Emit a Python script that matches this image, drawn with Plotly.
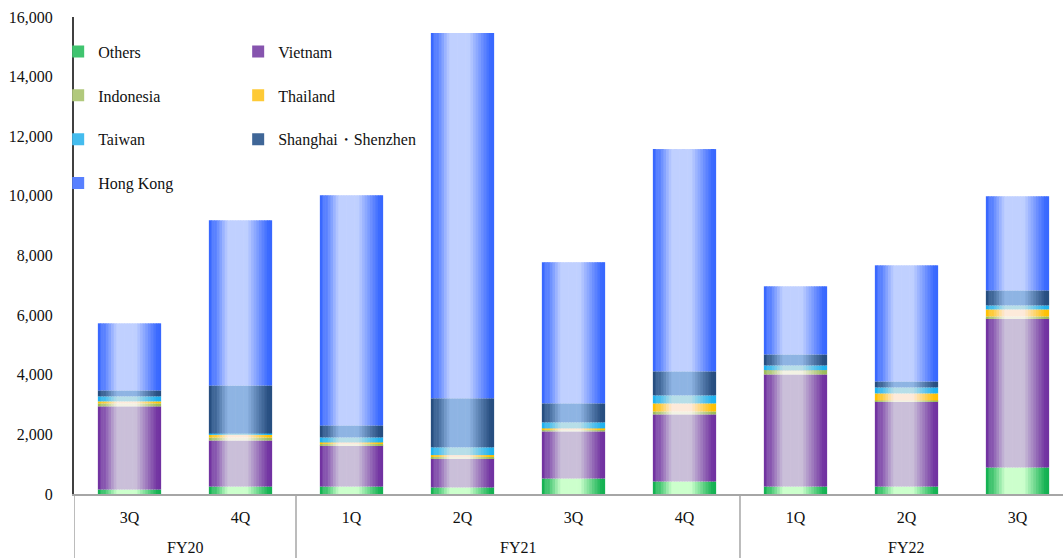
import numpy as np
import plotly.graph_objects as go

# Quarterly breakdown by market, stacked bottom to top
fiscal_years = ["FY20", "FY20", "FY21", "FY21", "FY21", "FY21", "FY22", "FY22", "FY22"]
quarters = ["3Q", "4Q", "1Q", "2Q", "3Q", "4Q", "1Q", "2Q", "3Q"]

others = [150, 250, 250, 220, 520, 420, 250, 250, 890]
vietnam = [2790, 1545, 1380, 975, 1580, 2250, 3760, 2855, 5000]
indonesia = [100, 100, 50, 57, 77, 100, 118, 34, 67]
thailand = [67, 100, 50, 54, 25, 269, 17, 235, 235]
taiwan = [168, 34, 168, 259, 201, 269, 168, 201, 134]
shanghai_shenzhen = [200, 1612, 403, 1645, 638, 806, 369, 201, 504]
hong_kong = [2250, 5540, 7720, 12255, 4735, 7455, 2285, 3895, 3157]

y_ticks = [0, 2000, 4000, 6000, 8000, 10000, 12000, 14000, 16000]

# name, values, edge colour, centre highlight colour, legend column
series = [
    ("Others", others, (0x12, 0xB0, 0x50), (0xCC, 0xFF, 0xCC), "legend"),
    ("Vietnam", vietnam, (0x70, 0x30, 0xA0), (0xCA, 0xBF, 0xD9), "legend2"),
    ("Indonesia", indonesia, (0x9B, 0xBB, 0x59), (0xF2, 0xF2, 0xE4), "legend"),
    ("Thailand", thailand, (0xFF, 0xC0, 0x00), (0xFD, 0xEA, 0xDA), "legend2"),
    ("Taiwan", taiwan, (0x1D, 0xB1, 0xF0), (0xB7, 0xDE, 0xE8), "legend"),
    ("Shanghai\u30fbShenzhen", shanghai_shenzhen, (0x25, 0x4C, 0x7E), (0x8E, 0xB4, 0xE3), "legend2"),
    ("Hong Kong", hong_kong, (0x36, 0x66, 0xFF), (0xC0, 0xD0, 0xFF), "legend"),
]

FONT = "Liberation Serif, Times New Roman, serif"
FS = 16
TEXT = "#111111"
BAR_W = 0.57
N_STRIPS = 24
STEP = BAR_W / N_STRIPS

# horizontal shading profile across a bar: 0 = edge colour, 1 = highlight
prof_t = [0.0, 0.05, 0.30, 0.60, 0.93, 1.0]
prof_w = [0.0, 0.05, 1.00, 1.00, 0.05, 0.0]


def blend(c0, c1, w):
    r, g, b = (round(a + (b_ - a) * w) for a, b_ in zip(c0, c1))
    return f"rgb({r},{g},{b})"


xpos = np.arange(len(quarters))
fig = go.Figure()

bottom = np.zeros(len(quarters))
for name, vals, edge, centre, leg in series:
    vals = np.asarray(vals, dtype=float)
    for k in range(N_STRIPS):
        t = (k + 0.5) / N_STRIPS
        w = float(np.interp(t, prof_t, prof_w))
        width = STEP * (1.25 if k < N_STRIPS - 1 else 1.0)
        show = k == 1
        fig.add_trace(go.Bar(
            x=xpos, y=vals, base=bottom.copy(),
            offset=-BAR_W / 2 + k * STEP, width=width,
            marker=dict(color=blend(edge, centre, 0.25 if show else w),
                        line=dict(width=0)),
            name=name, legendgroup=name, showlegend=show, legend=leg,
            hoverinfo="skip",
        ))
    bottom = bottom + vals

# fiscal-year group labels and the separators between groups
groups = []
for i, fy in enumerate(fiscal_years):
    if not groups or groups[-1][0] != fy:
        groups.append([fy, i, i])
    else:
        groups[-1][2] = i

annotations = []
shapes = []
for fy, i0, i1 in groups:
    annotations.append(dict(
        x=(i0 + i1) / 2, y=-0.113, xref="x", yref="paper",
        text=fy, showarrow=False, yanchor="middle",
        font=dict(family=FONT, size=FS, color=TEXT),
    ))
    shapes.append(dict(
        type="line", xref="x", yref="paper",
        x0=i0 - 0.5, x1=i0 - 0.5, y0=0, y1=-0.16,
        line=dict(color="#a6a6a6", width=1.5),
    ))

fig.update_layout(
    width=1063, height=558,
    margin=dict(l=74, r=0, t=17, b=64),
    barmode="overlay",
    plot_bgcolor="white", paper_bgcolor="white",
    font=dict(family=FONT, size=FS, color=TEXT),
    legend=dict(x=-0.016, y=0.963, xanchor="left", yanchor="top",
                bgcolor="rgba(0,0,0,0)", tracegroupgap=20,
                font=dict(family=FONT, size=FS), itemwidth=30),
    legend2=dict(x=0.166, y=0.963, xanchor="left", yanchor="top",
                 bgcolor="rgba(0,0,0,0)", tracegroupgap=20,
                 font=dict(family=FONT, size=FS), itemwidth=30),
    annotations=annotations,
    shapes=shapes,
)

fig.update_xaxes(
    range=[-0.5, 8.41],
    tickvals=xpos, ticktext=quarters,
    showline=True, linecolor="#a6a6a6", linewidth=2,
    ticks="", showgrid=False, zeroline=False,
    ticklabelstandoff=8,
    tickfont=dict(family=FONT, size=FS, color=TEXT),
)
fig.update_yaxes(
    range=[0, 16000],
    tickvals=y_ticks, tickformat=",d",
    showline=True, linecolor="#404040", linewidth=2,
    ticks="", showgrid=False, zeroline=False,
    ticklabelstandoff=16,
    tickfont=dict(family=FONT, size=FS, color=TEXT),
)

fig.write_html("out.html")
